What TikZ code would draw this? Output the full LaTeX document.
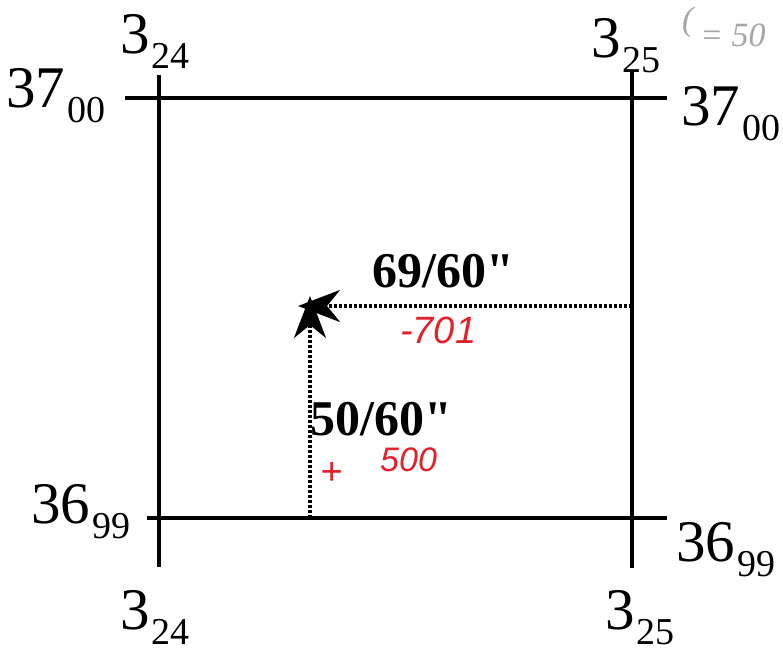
\documentclass[tikz,border=0pt]{standalone}
\usepackage{fontspec}
\setmainfont{Liberation Serif}[Ligatures=TeXOff]
\setsansfont{Liberation Sans}[Ligatures=TeXOff]
\usetikzlibrary{arrows.meta}

% grid corner label: big number with a dropped small subscript
\newcommand{\gridlabel}[2]{#1\kern2pt\raisebox{-15pt}{\fontsize{38}{38}\selectfont #2}}

\begin{document}
\begin{tikzpicture}[
  x=1pt,
  y=-1pt,
  gridline/.style={draw=black, line width=3.4pt},
  cornerlabel/.style={
    anchor=base west,
    inner sep=0pt,
    font=\fontsize{59}{59}\selectfont
  },
  offset/.style={
    draw=black,
    line width=3.2pt,
    dash pattern=on 2.6pt off 2.4pt,
    shorten >=-12pt,
    -{Stealth[length=42pt,width=32pt,inset=13pt]}
  },
  offlabel/.style={
    anchor=base west,
    inner sep=0pt,
    font=\fontsize{50}{50}\selectfont\bfseries
  },
  pen/.style={
    anchor=base west,
    inner sep=0pt,
    text=handred,
    font=\fontsize{38}{38}\selectfont\sffamily\itshape
  },
  pencil/.style={
    anchor=base west,
    inner sep=0pt,
    text=gray!70,
    font=\fontsize{34}{34}\selectfont\itshape
  }
]
\definecolor{handred}{RGB}{228,32,44}

\useasboundingbox[fill=white] (0,0) rectangle (783,651);

% ---------------------------------------------------------------------------
% Grid square
% ---------------------------------------------------------------------------
\coordinate (n-w) at (125,98);
\coordinate (n-e) at (667,98);
\coordinate (s-w) at (147,518);
\coordinate (s-e) at (667,518);
\coordinate (w-n) at (159,75);
\coordinate (w-s) at (159,567);
\coordinate (e-n) at (632,72);
\coordinate (e-s) at (632,568);

\draw[gridline] (n-w) -- (n-e);
\draw[gridline] (s-w) -- (s-e);
\draw[gridline] (w-n) -- (w-s);
\draw[gridline] (e-n) -- (e-s);

\node[cornerlabel] (lab-nw-e) at (120,53) {\gridlabel{3}{24}};
\node[cornerlabel] (lab-ne-e) at (591,57) {\gridlabel{3}{25}};
\node[cornerlabel] (lab-nw-n) at (6,107) {\gridlabel{37}{00}};
\node[cornerlabel] (lab-ne-n) at (681,125) {\gridlabel{37}{00}};
\node[cornerlabel] (lab-sw-n) at (31,523) {\gridlabel{36}{99}};
\node[cornerlabel] (lab-se-n) at (676,561) {\gridlabel{36}{99}};
\node[cornerlabel] (lab-sw-e) at (120,629) {\gridlabel{3}{24}};
\node[cornerlabel] (lab-se-e) at (605,629) {\gridlabel{3}{25}};

% ---------------------------------------------------------------------------
% Point and its offsets inside the square
% ---------------------------------------------------------------------------
\coordinate (pt) at (310,306);
\coordinate (pt-e) at (632,306);
\coordinate (pt-s) at (310,518);

\draw[offset] (pt-e) -- (pt);
\draw[offset, shorten >=-10pt] (pt-s) -- (pt);

\node[offlabel] (east-off) at (372,287) {69/60"};
\node[offlabel] (north-off) at (310,435) {50/60"};

% hand notes
\node[pen] (east-note) at (400,343) {-701};
\node[pen] (plus-note) at (320,484) {+};
\node[pen, font=\fontsize{34}{34}\selectfont\sffamily\itshape] (north-note) at (380,471) {500};
\node[pencil] (paren-note) at (682,30) {(};
\node[pencil] (eq-note) at (700,46) {= 50};

\end{tikzpicture}
\end{document}
